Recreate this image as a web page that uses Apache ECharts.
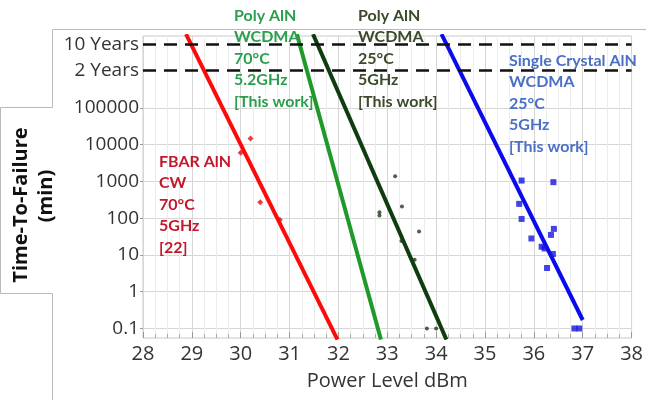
<!DOCTYPE html>
<html>
<head>
<meta charset="utf-8">
<script src="https://cdn.jsdelivr.net/npm/echarts@6/dist/echarts.min.js"></script>
<style>
  html, body { margin: 0; padding: 0; background: #fff; }
  #chart { width: 646px; height: 400px; }
</style>
</head>
<body>
<div id="chart"></div>
<script>
// scatter data (x: dBm, y: minutes)
const fbarPower = [30.0, 30.2, 30.4, 30.8];
const fbarTtf = [6000, 14500, 270, 90];

const poly25Power = [32.84, 32.84, 33.16, 33.30, 33.29, 33.56, 33.65, 33.81, 34.00];
const poly25Ttf = [144, 117, 1380, 206, 24, 7.4, 43, 0.1, 0.1];

const singlePower = [35.75, 36.40, 35.70, 35.75, 36.41, 36.35, 35.95, 36.16, 36.22, 36.39, 36.27, 36.83, 36.93];
const singleTtf = [1050, 950, 244, 95, 51, 35, 28, 16.7, 15, 10.6, 4.4, 0.1, 0.1];

// fitted lines, two ends each
const fitFbarX = [28.88, 31.98];
const fitFbarY = [1e7, 0.05];
const fitPoly70X = [31.15, 32.87];
const fitPoly70Y = [1e7, 0.05];
const fitPoly25X = [31.48, 34.21];
const fitPoly25Y = [1e7, 0.05];
const fitSingleX = [34.11, 37.0];
const fitSingleY = [1e7, 0.17];

// y tick labels
const decadeTicks = [0.1, 1, 10, 100, 1000, 10000, 100000];
const decadeLabels = ['0.1', '1', '10', '100', '1000', '10000', '100000'];
const yearMinutes = [1051200, 5256000];
const yearLabels = ['2 Years', '10 Years'];

const pairs = (xs, ys) => xs.map((x, i) => [x, ys[i]]);

const labelMap = {};
decadeTicks.forEach((v, i) => { labelMap[v] = decadeLabels[i]; });
yearMinutes.forEach((v, i) => { labelMap[v] = yearLabels[i]; });

let myChart = echarts.init(document.getElementById('chart'));

const annoFont = 'Lato';
function note(left, top, text, color) {
  return {
    type: 'text', left: left, top: top,
    style: {
      text: text, fill: color,
      fontFamily: annoFont, fontWeight: 'bold', fontSize: 16,
      lineHeight: 21.5
    },
    z: 100
  };
}

myChart.setOption({
  animation: false,
  grid: {
    left: 143, right: 8, top: 36, bottom: 62,
    show: true, borderColor: '#c8c8c8', borderWidth: 1
  },
  xAxis: {
    type: 'value',
    min: 28, max: 38, interval: 1,
    name: 'Power Level dBm',
    nameLocation: 'middle',
    nameGap: 33,
    nameTextStyle: { fontFamily: 'Open Sans', fontSize: 20, color: '#333' },
    axisLine: { show: false },
    axisTick: { show: true, inside: true, length: 6, lineStyle: { color: '#999' } },
    minorTick: { show: true, splitNumber: 4, length: 4, lineStyle: { color: '#aaa' } },
    axisLabel: { fontFamily: 'Open Sans', fontSize: 20, color: '#333', margin: 6 },
    splitLine: { show: true, lineStyle: { color: '#d6d6d6', width: 1 } },
    minorSplitLine: { show: true, lineStyle: { color: '#ececec', width: 1 } }
  },
  yAxis: {
    type: 'log',
    logBase: 10,
    min: 0.0551,
    max: 8.93e6,
    axisLine: { show: false },
    axisTick: { show: true, length: 3, customValues: decadeTicks, lineStyle: { color: '#999' } },
    axisLabel: {
      customValues: decadeTicks.concat(yearMinutes),
      fontFamily: 'Open Sans', fontSize: 19, color: '#333', margin: 4,
      padding: [5, 0, 0, 0],
      formatter: function (v) {
        for (const k in labelMap) {
          if (Math.abs(Number(k) - v) / Number(k) < 1e-6) return labelMap[k];
        }
        return '';
      }
    },
    splitLine: { show: true, lineStyle: { color: '#d6d6d6', width: 1 } }
  },
  graphic: [
    {
      type: 'polyline',
      shape: { points: [[646, 29.5], [52.5, 29.5], [52.5, 107.5], [0.5, 107.5], [0.5, 293.5], [52.5, 293.5], [52.5, 400]] },
      style: { stroke: '#b8b8b8', lineWidth: 1, fill: null }
    },
    {
      type: 'text', x: 21, y: 205, rotation: Math.PI / 2,
      style: {
        text: 'Time-To-Failure', fill: '#111',
        fontFamily: 'Open Sans', fontWeight: 'bold', fontSize: 20,
        textAlign: 'center', textVerticalAlign: 'middle'
      }
    },
    {
      type: 'text', x: 46, y: 196, rotation: Math.PI / 2,
      style: {
        text: '(min)', fill: '#111',
        fontFamily: 'Open Sans', fontWeight: 'bold', fontSize: 20,
        textAlign: 'center', textVerticalAlign: 'middle'
      }
    },
    note(159, 151, 'FBAR AlN\nCW\n70°C\n5GHz\n[22]', '#c2182c'),
    note(234, 5, 'Poly AlN\nWCDMA\n70°C\n5.2GHz\n[This work]', '#2b9e50'),
    note(358, 5, 'Poly AlN\nWCDMA\n25°C\n5GHz\n[This work]', '#3c4a2c'),
    note(509, 50, 'Single Crystal AlN\nWCDMA\n25°C\n5GHz\n[This work]', '#4a70c6')
  ],
  series: [
    {
      type: 'line',
      data: pairs(fitFbarX, fitFbarY),
      symbol: 'none',
      lineStyle: { color: '#ff0a0a', width: 4 },
      z: 3,
      markLine: {
        silent: true,
        symbol: 'none',
        label: { show: false },
        lineStyle: { color: '#111', width: 2.5, type: [13, 8] },
        data: yearMinutes.map(v => ({ yAxis: v }))
      }
    },
    {
      type: 'line',
      data: pairs(fitPoly70X, fitPoly70Y),
      symbol: 'none',
      lineStyle: { color: '#1f9a2a', width: 4 },
      z: 3
    },
    {
      type: 'line',
      data: pairs(fitPoly25X, fitPoly25Y),
      symbol: 'none',
      lineStyle: { color: '#0f3d10', width: 4 },
      z: 3
    },
    {
      type: 'line',
      data: pairs(fitSingleX, fitSingleY),
      symbol: 'none',
      lineStyle: { color: '#0a0aee', width: 4 },
      z: 3
    },
    {
      type: 'scatter',
      data: pairs(fbarPower, fbarTtf),
      symbol: 'diamond',
      symbolSize: 6,
      itemStyle: { color: '#e01010' },
      z: 4
    },
    {
      type: 'scatter',
      data: pairs(poly25Power, poly25Ttf),
      symbol: 'circle',
      symbolSize: 4,
      itemStyle: { color: '#1e3a1e' },
      z: 4
    },
    {
      type: 'scatter',
      data: pairs(singlePower, singleTtf),
      symbol: 'rect',
      symbolSize: 6,
      itemStyle: { color: '#1414e0' },
      z: 4
    }
  ]
});
</script>
</body>
</html>
